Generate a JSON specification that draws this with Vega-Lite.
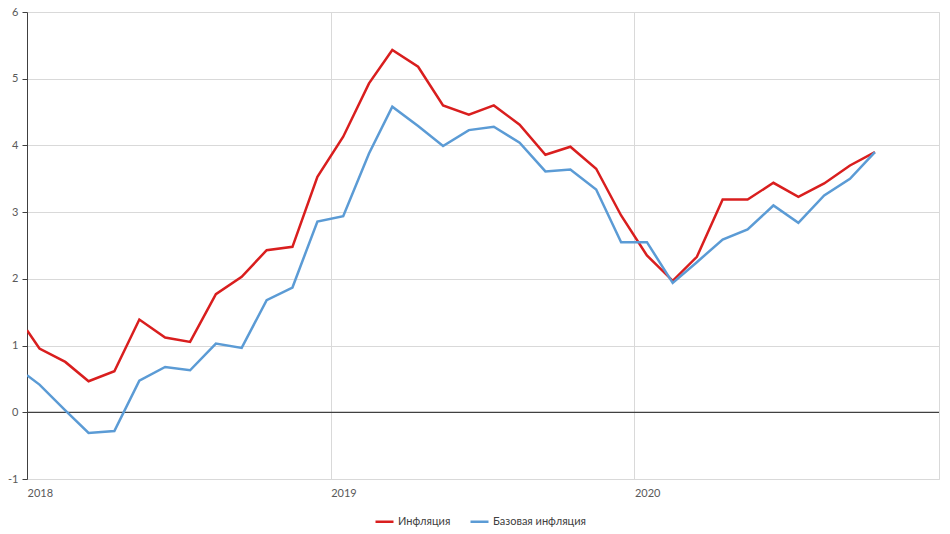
{
  "$schema": "https://vega.github.io/schema/vega-lite/v6.json",
  "autosize": "none",
  "width": 912,
  "height": 467,
  "padding": {"left": 27, "top": 12, "right": 11, "bottom": 55},
  "background": "white",
  "config": {
    "font": "Lato",
    "view": {"stroke": "#d9d9d9", "strokeWidth": 1}
  },
  "data": {
    "values": [
      {"date": "2018-01-01", "series": "Инфляция", "value": 1.23},
      {"date": "2018-01-16", "series": "Инфляция", "value": 0.955},
      {"date": "2018-02-16", "series": "Инфляция", "value": 0.755},
      {"date": "2018-03-16", "series": "Инфляция", "value": 0.465},
      {"date": "2018-04-16", "series": "Инфляция", "value": 0.615},
      {"date": "2018-05-16", "series": "Инфляция", "value": 1.39},
      {"date": "2018-06-16", "series": "Инфляция", "value": 1.12},
      {"date": "2018-07-16", "series": "Инфляция", "value": 1.055},
      {"date": "2018-08-16", "series": "Инфляция", "value": 1.77},
      {"date": "2018-09-16", "series": "Инфляция", "value": 2.03},
      {"date": "2018-10-16", "series": "Инфляция", "value": 2.43},
      {"date": "2018-11-16", "series": "Инфляция", "value": 2.48},
      {"date": "2018-12-16", "series": "Инфляция", "value": 3.53},
      {"date": "2019-01-16", "series": "Инфляция", "value": 4.13},
      {"date": "2019-02-16", "series": "Инфляция", "value": 4.93},
      {"date": "2019-03-16", "series": "Инфляция", "value": 5.43},
      {"date": "2019-04-16", "series": "Инфляция", "value": 5.18},
      {"date": "2019-05-16", "series": "Инфляция", "value": 4.6},
      {"date": "2019-06-16", "series": "Инфляция", "value": 4.46},
      {"date": "2019-07-16", "series": "Инфляция", "value": 4.6},
      {"date": "2019-08-16", "series": "Инфляция", "value": 4.31},
      {"date": "2019-09-16", "series": "Инфляция", "value": 3.86},
      {"date": "2019-10-16", "series": "Инфляция", "value": 3.98},
      {"date": "2019-11-16", "series": "Инфляция", "value": 3.65},
      {"date": "2019-12-16", "series": "Инфляция", "value": 2.95},
      {"date": "2020-01-16", "series": "Инфляция", "value": 2.35},
      {"date": "2020-02-16", "series": "Инфляция", "value": 1.97},
      {"date": "2020-03-16", "series": "Инфляция", "value": 2.33},
      {"date": "2020-04-16", "series": "Инфляция", "value": 3.19},
      {"date": "2020-05-16", "series": "Инфляция", "value": 3.19},
      {"date": "2020-06-16", "series": "Инфляция", "value": 3.44},
      {"date": "2020-07-16", "series": "Инфляция", "value": 3.23},
      {"date": "2020-08-16", "series": "Инфляция", "value": 3.43},
      {"date": "2020-09-16", "series": "Инфляция", "value": 3.7},
      {"date": "2020-10-16", "series": "Инфляция", "value": 3.9},
      {"date": "2018-01-01", "series": "Базовая инфляция", "value": 0.555},
      {"date": "2018-01-16", "series": "Базовая инфляция", "value": 0.415},
      {"date": "2018-02-16", "series": "Базовая инфляция", "value": 0.03},
      {"date": "2018-03-16", "series": "Базовая инфляция", "value": -0.31},
      {"date": "2018-04-16", "series": "Базовая инфляция", "value": -0.28},
      {"date": "2018-05-16", "series": "Базовая инфляция", "value": 0.475},
      {"date": "2018-06-16", "series": "Базовая инфляция", "value": 0.68},
      {"date": "2018-07-16", "series": "Базовая инфляция", "value": 0.63},
      {"date": "2018-08-16", "series": "Базовая инфляция", "value": 1.03},
      {"date": "2018-09-16", "series": "Базовая инфляция", "value": 0.965},
      {"date": "2018-10-16", "series": "Базовая инфляция", "value": 1.68},
      {"date": "2018-11-16", "series": "Базовая инфляция", "value": 1.87},
      {"date": "2018-12-16", "series": "Базовая инфляция", "value": 2.86},
      {"date": "2019-01-16", "series": "Базовая инфляция", "value": 2.94},
      {"date": "2019-02-16", "series": "Базовая инфляция", "value": 3.88},
      {"date": "2019-03-16", "series": "Базовая инфляция", "value": 4.58},
      {"date": "2019-04-16", "series": "Базовая инфляция", "value": 4.29},
      {"date": "2019-05-16", "series": "Базовая инфляция", "value": 3.99},
      {"date": "2019-06-16", "series": "Базовая инфляция", "value": 4.23},
      {"date": "2019-07-16", "series": "Базовая инфляция", "value": 4.28},
      {"date": "2019-08-16", "series": "Базовая инфляция", "value": 4.04},
      {"date": "2019-09-16", "series": "Базовая инфляция", "value": 3.61},
      {"date": "2019-10-16", "series": "Базовая инфляция", "value": 3.64},
      {"date": "2019-11-16", "series": "Базовая инфляция", "value": 3.34},
      {"date": "2019-12-16", "series": "Базовая инфляция", "value": 2.55},
      {"date": "2020-01-16", "series": "Базовая инфляция", "value": 2.55},
      {"date": "2020-02-16", "series": "Базовая инфляция", "value": 1.94},
      {"date": "2020-03-16", "series": "Базовая инфляция", "value": 2.25},
      {"date": "2020-04-16", "series": "Базовая инфляция", "value": 2.59},
      {"date": "2020-05-16", "series": "Базовая инфляция", "value": 2.74},
      {"date": "2020-06-16", "series": "Базовая инфляция", "value": 3.1},
      {"date": "2020-07-16", "series": "Базовая инфляция", "value": 2.84},
      {"date": "2020-08-16", "series": "Базовая инфляция", "value": 3.25},
      {"date": "2020-09-16", "series": "Базовая инфляция", "value": 3.5},
      {"date": "2020-10-16", "series": "Базовая инфляция", "value": 3.9}
    ]
  },
  "layer": [
    {
      "mark": {"type": "rule", "color": "#404040", "strokeWidth": 1.2},
      "data": {"values": [{"zero": 0}]},
      "encoding": {"y": {"field": "zero", "type": "quantitative"}}
    },
    {
      "mark": {"type": "line", "strokeWidth": 2.5, "strokeJoin": "miter", "clip": true},
      "encoding": {
        "x": {
          "field": "date",
          "type": "temporal",
          "scale": {"domain": ["2018-01-01", "2021-01-01"], "nice": false},
          "axis": {
            "title": null,
            "values": ["2018-01-01", "2019-01-01", "2020-01-01"],
            "format": "%Y",
            "labelAlign": "left",
            "labelBaseline": "top",
            "labelPadding": 8,
            "labelFontSize": 11,
            "labelColor": "#595959",
            "labelFont": "Lato",
            "ticks": false,
            "domain": false,
            "grid": true,
            "gridColor": "#d9d9d9",
            "gridWidth": 1
          }
        },
        "y": {
          "field": "value",
          "type": "quantitative",
          "scale": {"domain": [-1, 6], "nice": false},
          "axis": {
            "title": null,
            "values": [-1, 0, 1, 2, 3, 4, 5, 6],
            "labelExpr": "'' + datum.value",
            "labelFontSize": 11,
            "labelColor": "#595959",
            "labelFont": "Lato",
            "labelPadding": 4,
            "tickSize": 5,
            "tickColor": "#404040",
            "domainColor": "#404040",
            "grid": true,
            "gridColor": "#d9d9d9",
            "gridWidth": 1
          }
        },
        "color": {
          "field": "series",
          "type": "nominal",
          "scale": {
            "domain": ["Инфляция", "Базовая инфляция"],
            "range": ["#D91E1E", "#5B9BD5"]
          },
          "legend": {
            "title": null,
            "orient": "none",
            "legendX": 347,
            "legendY": 499,
            "direction": "horizontal",
            "symbolType": "stroke",
            "symbolStrokeWidth": 2.5,
            "symbolSize": 324,
            "labelFontSize": 11,
            "labelColor": "#404040",
            "labelFont": "Lato",
            "labelOffset": 3,
            "columnPadding": 14
          }
        }
      }
    }
  ]
}
